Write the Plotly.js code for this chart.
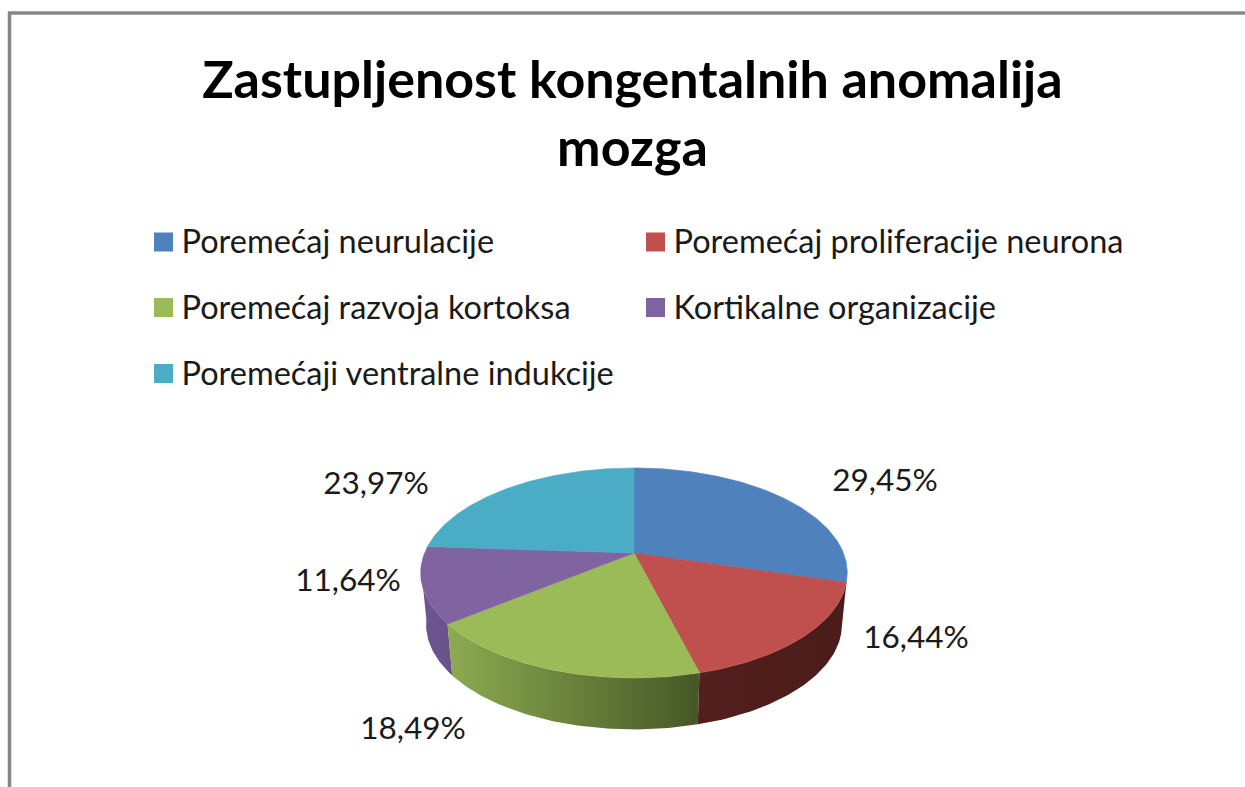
<!DOCTYPE html>
<html>
<head>
<meta charset="utf-8">
<script src="https://cdn.plot.ly/plotly-3.0.1.min.js"></script>
<style>html,body{margin:0;padding:0;background:#fff;overflow:hidden}#chart{width:1245px;height:787px}</style>
</head>
<body>
<div id="chart"></div>
<script>
// Data
const categories = ['Poremećaj neurulacije','Poremećaj proliferacije neurona','Poremećaj razvoja kortoksa','Kortikalne organizacije','Poremećaji ventralne indukcije'];
const values = [29.45, 16.44, 18.49, 11.64, 23.97];
const topColors = ['#4f81bd','#c0504d','#9bbb59','#8064a2','#4bacc6'];
const sideLeft  = ['#4f81bd','#521f1d','#8cab50','#6d5590','#4bacc6'];
const sideRight = ['#4f81bd','#4a1c1a','#465727','#69518a','#4bacc6'];
const legendX = [155,647,155,647,155];
const legendY = [242,242,307.5,307.5,373.5];
const labelX = [885,916,413,348,376];
const labelY = [483,640,731,583,486];

// Projection of the tilted disc
const cx=634, cy=553, a=101.2, b=209.4, k=0.19, depth=51.5, shrink=0.975;
const silhouetteAngle = 262*Math.PI/180; // left-hand limit of the visible wall
function rimTop(t){const X=Math.sin(t),Y=-Math.cos(t),d=1-k*Y;return [cx+b*X/d,cy+a*Y/d];}
function rimBot(t){const p=rimTop(t);return [cx+(p[0]-cx)*shrink,p[1]+depth];}
const total=values.reduce((s,v)=>s+v,0);
let cum=0;
const arcs=values.map(v=>{const s=cum/total*2*Math.PI;cum+=v;return [s,cum/total*2*Math.PI];});
function arc(fn,s,e){const n=Math.max(2,Math.ceil((e-s)/(Math.PI/180)));const o=[];for(let i=0;i<=n;i++)o.push(fn(s+(e-s)*i/n));return o;}

const traces=[];
// Sides: only segments facing the viewer
[3,2,1].forEach(i=>{
  const s=arcs[i][0], e=Math.min(arcs[i][1],silhouetteAngle);
  const pts=arc(rimTop,s,e).concat(arc(rimBot,s,e).reverse());
  pts.push(pts[0]);
  const tr={type:'scatter',mode:'lines',x:pts.map(p=>p[0]),y:pts.map(p=>p[1]),fill:'toself',line:{width:0,color:sideLeft[i]},fillcolor:sideLeft[i],hoverinfo:'skip',showlegend:false};
  tr.fillgradient={type:'horizontal',colorscale:[[0,sideLeft[i]],[1,sideRight[i]]]};
  traces.push(tr);
});
// Top faces
values.forEach((v,i)=>{
  const [s,e]=arcs[i];
  const pts=[[cx,cy]].concat(arc(rimTop,s,e));
  pts.push([cx,cy]);
  traces.push({type:'scatter',mode:'lines',name:categories[i],x:pts.map(p=>p[0]),y:pts.map(p=>p[1]),fill:'toself',fillcolor:topColors[i],line:{width:0.6,color:topColors[i]},hoverinfo:'name',showlegend:false});
});
// Legend swatches and text
traces.push({type:'scatter',mode:'markers',x:legendX.map(x=>x+8.5),y:legendY,marker:{symbol:'square',size:19,color:topColors,line:{width:0}},hoverinfo:'skip',showlegend:false});
traces.push({type:'scatter',mode:'text',x:legendX.map(x=>x+26.5),y:legendY.map(y=>y+3),text:categories,textposition:'middle right',textfont:{family:'Lato, sans-serif',size:32.5,color:'#1a1a1a'},hoverinfo:'skip',showlegend:false});
// Percentage labels
traces.push({type:'scatter',mode:'text',x:labelX,y:labelY,text:values.map(v=>v.toFixed(2).replace('.',',')+'%'),textposition:'middle center',textfont:{family:'Lato, sans-serif',size:31.5,color:'#1a1a1a'},hoverinfo:'skip',showlegend:false});

const frame={type:'line',xref:'x',yref:'y',line:{color:'#878787',width:3.5}};
const layout={
  width:1245,height:787,paper_bgcolor:'#fff',plot_bgcolor:'#fff',
  margin:{l:0,r:0,t:0,b:0},showlegend:false,
  title:{text:'Zastupljenost kongentalnih anomalija<br>mozga',font:{family:'Lato, sans-serif',size:52,weight:700,color:'#000'},x:0.508,xanchor:'center',y:0.875,yanchor:'middle'},
  xaxis:{range:[0,1245],visible:false,fixedrange:true},
  yaxis:{range:[787,0],visible:false,fixedrange:true},
  shapes:[
    Object.assign({x0:8,x1:1245,y0:13,y1:13},frame),
    Object.assign({x0:9.5,x1:9.5,y0:12,y1:787},frame)
  ]
};
Plotly.newPlot('chart',traces,layout,{displayModeBar:false,staticPlot:true});
</script>
</body>
</html>
